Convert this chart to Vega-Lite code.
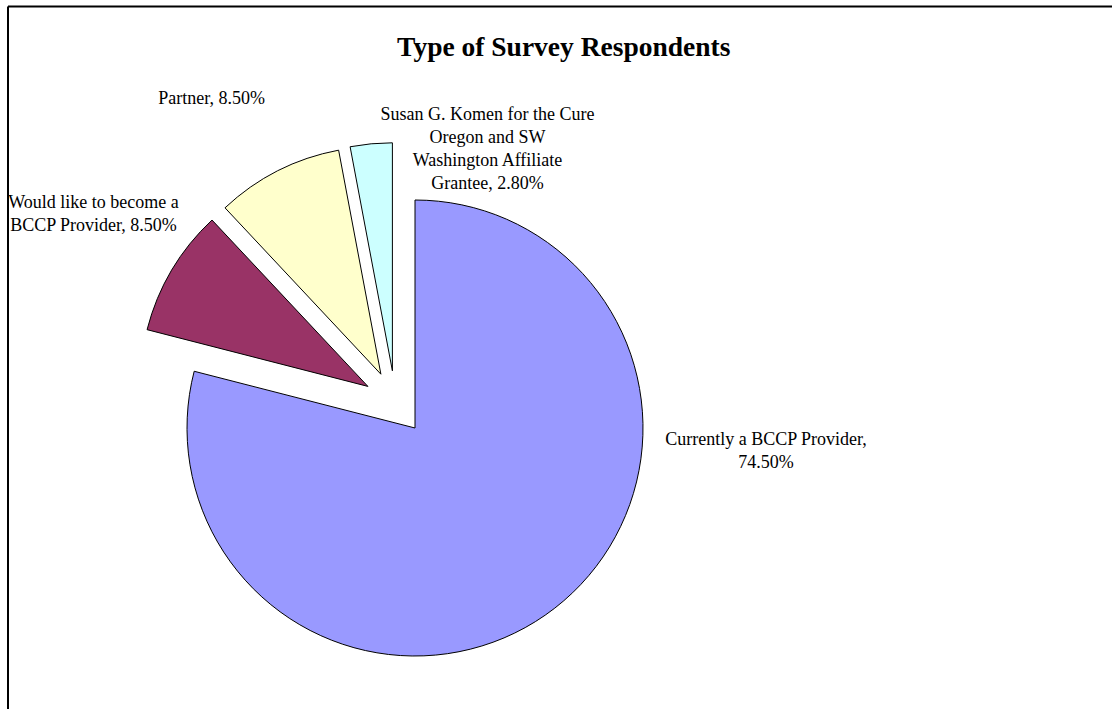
{
  "$schema": "https://vega.github.io/schema/vega-lite/v6.json",
  "width": 1104.5,
  "height": 703,
  "autosize": {"type": "none"},
  "padding": {"left": 7.5, "top": 6, "right": 0, "bottom": 0},
  "background": "white",
  "config": {"view": {"stroke": null}, "font": "Liberation Serif"},
  "title": {
    "text": "Type of Survey Respondents",
    "font": "Liberation Serif",
    "fontSize": 27.5,
    "fontWeight": "bold",
    "color": "black",
    "anchor": "middle",
    "baseline": "alphabetic",
    "offset": -77,
    "dx": 4
  },
  "data": {
    "values": [
      {"category": "Currently a BCCP Provider", "percent": 74.5, "order": 1, "label": "Currently a BCCP Provider,\n74.50%"},
      {"category": "Would like to become a BCCP Provider", "percent": 8.5, "order": 2, "label": "Would like to become a\nBCCP Provider, 8.50%"},
      {"category": "Partner", "percent": 8.5, "order": 3, "label": "Partner, 8.50%"},
      {"category": "Susan G. Komen for the Cure Oregon and SW Washington Affiliate Grantee", "percent": 2.8, "order": 4, "label": "Susan G. Komen for the Cure\nOregon and SW\nWashington Affiliate\nGrantee, 2.80%"}
    ]
  },
  "transform": [
    {"stack": "percent", "groupby": [], "sort": [{"field": "order", "order": "ascending"}], "as": ["start", "end"]}
  ],
  "encoding": {
    "x": {
      "datum": 0.3512,
      "type": "quantitative",
      "scale": {"domain": [0, 1], "nice": false, "zero": false},
      "axis": {"orient": "top", "domain": true, "domainColor": "black", "domainWidth": 2, "ticks": false, "labels": false, "grid": false, "title": null}
    },
    "y": {
      "datum": 0.4357,
      "type": "quantitative",
      "scale": {"domain": [0, 1], "nice": false, "zero": false},
      "axis": {"orient": "left", "domain": true, "domainColor": "black", "domainWidth": 2, "ticks": false, "labels": false, "grid": false, "title": null}
    },
    "color": {
      "field": "category",
      "type": "nominal",
      "scale": {
        "domain": ["Currently a BCCP Provider", "Would like to become a BCCP Provider", "Partner", "Susan G. Komen for the Cure Oregon and SW Washington Affiliate Grantee"],
        "range": ["#9999FF", "#993366", "#FFFFCC", "#CCFFFF"]
      },
      "legend": null
    }
  },
  "layer": [
    {
      "transform": [{"filter": {"field": "order", "equal": 1}}],
      "mark": {"type": "arc", "outerRadius": 228, "stroke": "black", "strokeWidth": 1, "xOffset": 19.6, "yOffset": 25.3},
      "encoding": {
        "theta": {"field": "start", "type": "quantitative", "stack": null, "scale": {"nice": false, "zero": true}},
        "theta2": {"field": "end"}
      }
    },
    {
      "transform": [{"filter": {"field": "order", "equal": 2}}],
      "mark": {"type": "arc", "outerRadius": 228, "stroke": "black", "strokeWidth": 1, "xOffset": -27.5, "yOffset": -16.3},
      "encoding": {
        "theta": {"field": "start", "type": "quantitative", "stack": null},
        "theta2": {"field": "end"}
      }
    },
    {
      "transform": [{"filter": {"field": "order", "equal": 3}}],
      "mark": {"type": "arc", "outerRadius": 228, "stroke": "black", "strokeWidth": 1, "xOffset": -14.5, "yOffset": -28.5},
      "encoding": {
        "theta": {"field": "start", "type": "quantitative", "stack": null},
        "theta2": {"field": "end"}
      }
    },
    {
      "transform": [{"filter": {"field": "order", "equal": 4}}],
      "mark": {"type": "arc", "outerRadius": 228, "stroke": "black", "strokeWidth": 1, "xOffset": -3.0, "yOffset": -31.9},
      "encoding": {
        "theta": {"field": "start", "type": "quantitative", "stack": null},
        "theta2": {"field": "end"}
      }
    },
    {
      "transform": [{"filter": {"field": "order", "equal": 1}}],
      "mark": {"type": "text", "font": "Liberation Serif", "fontSize": 18, "lineHeight": 23, "lineBreak": "\n", "align": "center", "baseline": "alphabetic", "radius": 373.0, "thetaOffset": -3.2794},
      "encoding": {
        "theta": {"field": "end", "type": "quantitative", "stack": null},
        "text": {"field": "label"},
        "color": {"value": "black"}
      }
    },
    {
      "transform": [{"filter": {"field": "order", "equal": 2}}],
      "mark": {"type": "text", "font": "Liberation Serif", "fontSize": 18, "lineHeight": 23, "lineBreak": "\n", "align": "center", "baseline": "alphabetic", "radius": 359.2, "thetaOffset": -0.2453},
      "encoding": {
        "theta": {"field": "end", "type": "quantitative", "stack": null},
        "text": {"field": "label"},
        "color": {"value": "black"}
      }
    },
    {
      "transform": [{"filter": {"field": "order", "equal": 3}}],
      "mark": {"type": "text", "font": "Liberation Serif", "fontSize": 18, "lineHeight": 23, "lineBreak": "\n", "align": "center", "baseline": "alphabetic", "radius": 350.7, "thetaOffset": -0.3648},
      "encoding": {
        "theta": {"field": "end", "type": "quantitative", "stack": null},
        "text": {"field": "label"},
        "color": {"value": "black"}
      }
    },
    {
      "transform": [{"filter": {"field": "order", "equal": 4}}],
      "mark": {"type": "text", "font": "Liberation Serif", "fontSize": 18, "lineHeight": 23, "lineBreak": "\n", "align": "center", "baseline": "alphabetic", "radius": 297.3, "thetaOffset": 0.3149},
      "encoding": {
        "theta": {"field": "end", "type": "quantitative", "stack": null},
        "text": {"field": "label"},
        "color": {"value": "black"}
      }
    }
  ]
}
